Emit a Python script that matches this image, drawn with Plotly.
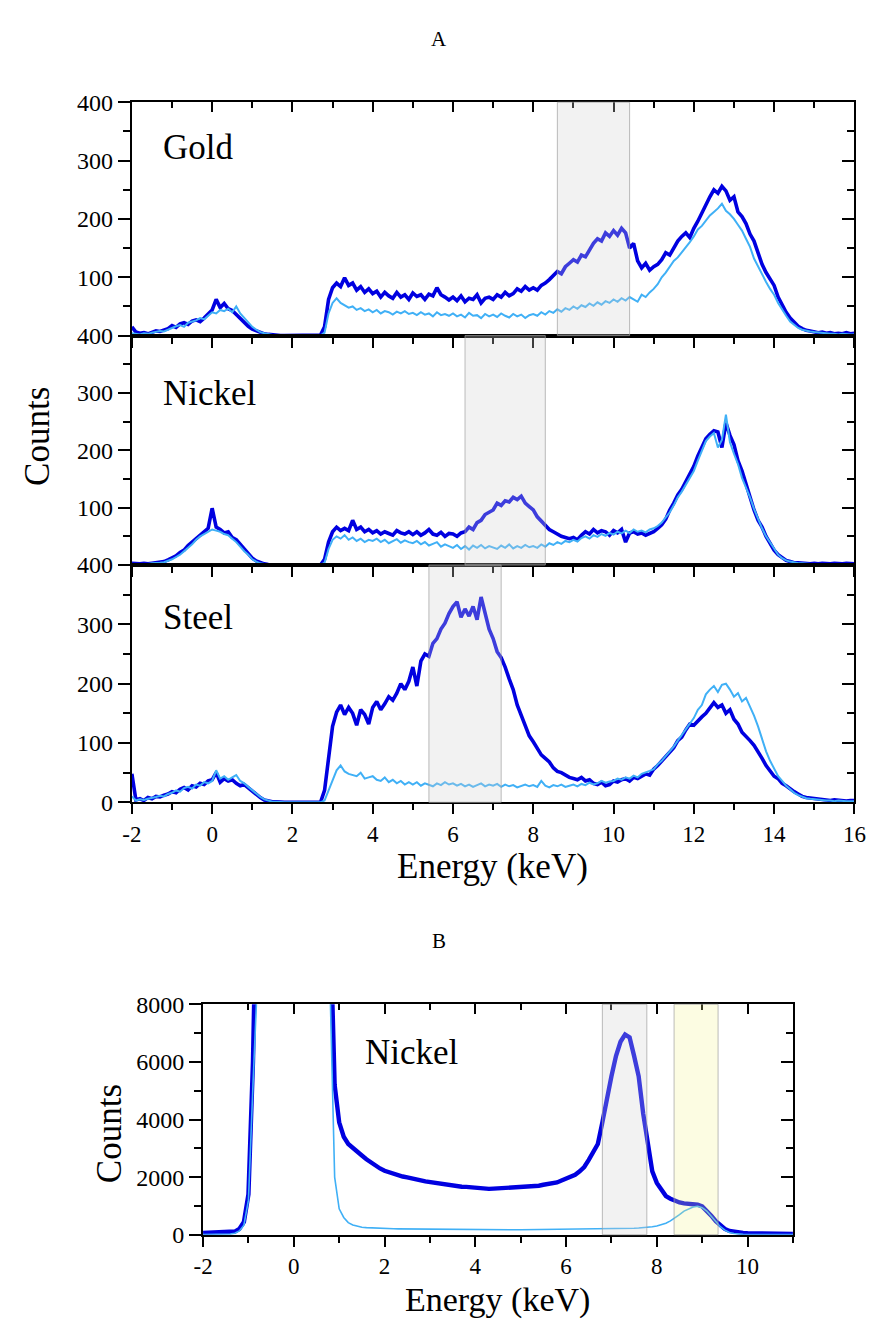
import numpy as np
import plotly.graph_objects as go

W, H = 881, 1334
FONT = "Liberation Serif, Times New Roman, serif"
DARK = "#0000e0"
LIGHT = "#40b0f6"

# ---------------------------------------------------------------- panel A
# energy channels (keV), 0.1 keV bins
energy_a = np.round(np.arange(-2.0, 16.0001, 0.1), 1)

gold_dark = [
    15, 6, 4, 5, 3, 6, 8, 7, 10, 12,
    17, 14, 20, 22, 19, 25, 27, 24, 30, 36,
    44, 62, 48, 55, 46, 43, 36, 31, 24, 16,
    11, 8, 5, 3, 2, 1, 1, 0, 0, 0,
    0, 0, 0, 0, 0, 0, 0, 1, 15, 62,
    82, 90, 84, 99, 86, 90, 78, 84, 74, 80,
    72, 76, 66, 74, 68, 64, 74, 66, 70, 62,
    73, 67, 70, 62, 71, 68, 82, 70, 66, 61,
    66, 60, 68, 58, 64, 62, 70, 56, 64, 66,
    62, 70, 66, 74, 68, 72, 80, 76, 84, 78,
    82, 78, 86, 90, 96, 104, 110, 106, 118, 124,
    130, 126, 138, 135, 146, 158, 166, 162, 176, 170,
    180, 172, 184, 176, 150, 158, 128, 116, 124, 112,
    118, 122, 130, 142, 138, 150, 162, 170, 176, 168,
    184, 196, 210, 226, 238, 250, 244, 256, 248, 232,
    238, 212, 204, 192, 174, 162, 140, 122, 108, 96,
    86, 66, 52, 40, 30, 22, 16, 12, 9, 8,
    7, 5, 6, 4, 5, 3, 4, 3, 5, 3,
    4,
]
gold_light = [
    4, 3, 2, 4, 3, 5, 6, 8, 7, 10,
    14, 16, 18, 15, 22, 24, 26, 30, 28, 34,
    40, 38, 44, 42, 46, 40, 50, 38, 30, 22,
    15, 10, 6, 4, 2, 1, 1, 0, 0, 0,
    0, 0, 0, 0, 0, 0, 0, 0, 5, 38,
    56, 64, 56, 52, 48, 50, 44, 47, 42, 45,
    40, 44, 38, 42, 40, 36, 41, 38, 42, 37,
    39, 35, 40, 36, 38, 33, 40, 35, 37, 34,
    38, 33, 36, 31, 39, 34, 35, 30, 37, 33,
    36, 32, 38, 34, 31, 37, 33, 36, 30, 35,
    37, 34, 40, 36, 42, 39, 45, 41, 47, 44,
    50, 46, 52, 49, 55, 51, 57, 53, 59, 56,
    62, 58, 64, 60, 66, 62, 58, 70, 66, 74,
    80, 88, 100, 108, 118, 128, 134, 142, 150, 160,
    170, 182, 188, 196, 206, 212, 218, 226, 214, 208,
    200, 190, 180, 166, 152, 132, 118, 104, 92, 80,
    70, 56, 44, 34, 24, 18, 13, 10, 8, 7,
    6, 5, 4, 4, 3, 3, 2, 3, 2, 2,
    2,
]
nickel_dark = [
    3, 2, 2, 3, 2, 3, 4, 5, 6, 9,
    12, 16, 22, 26, 34, 40, 46, 52, 58, 64,
    99, 66, 62, 56, 58, 48, 44, 36, 28, 20,
    12, 7, 4, 2, 1, 1, 0, 0, 0, 0,
    0, 0, 0, 0, 0, 0, 0, 0, 10, 40,
    58, 66, 60, 64, 60, 78, 62, 66, 58, 62,
    56, 60, 54, 58, 55, 52, 60, 56, 54, 58,
    53, 58, 52, 56, 62, 54, 52, 57, 50, 55,
    54, 50, 56, 58, 66, 62, 74, 78, 88, 92,
    96, 108, 104, 112, 110, 118, 114, 120, 108, 102,
    96, 84, 76, 68, 62, 58, 54, 50, 48, 46,
    48, 44, 52, 58, 54, 62, 56, 60, 58, 52,
    60, 56, 62, 40, 56, 58, 54, 56, 52, 55,
    58, 64, 70, 80, 96, 108, 122, 132, 146, 160,
    172, 190, 206, 220, 228, 234, 232, 205, 248, 226,
    210, 182, 164, 140, 120, 96, 78, 66, 50, 38,
    26, 18, 12, 8, 6, 4, 4, 3, 3, 2,
    3, 2, 3, 2, 2, 3, 2, 2, 3, 2,
    2,
]
nickel_light = [
    2, 2, 1, 2, 2, 3, 3, 4, 5, 7,
    10, 14, 18, 24, 30, 36, 44, 50, 54, 58,
    62, 60, 58, 54, 52, 46, 40, 32, 24, 18,
    10, 6, 3, 2, 1, 0, 0, 0, 0, 0,
    0, 0, 0, 0, 0, 0, 0, 0, 4, 28,
    44, 50, 46, 52, 44, 48, 42, 46, 40, 44,
    42, 46, 40, 44, 38, 42, 45, 39, 43, 40,
    38, 42, 36, 40, 34, 37, 40, 32, 36, 33,
    30, 35, 28, 33, 27, 34, 30, 35, 29, 33,
    31, 28, 34, 30, 36, 29, 33, 30, 35, 31,
    33, 30, 36, 32, 38, 35, 40, 37, 42, 40,
    44, 41, 47, 50, 46, 52, 49, 54, 51, 56,
    53, 58, 55, 60, 56, 62, 58, 60, 57, 62,
    64, 68, 74, 82, 92, 104, 118, 128, 140, 152,
    164, 182, 200, 216, 224, 230, 205, 218, 262, 214,
    194, 176, 152, 136, 118, 98, 80, 64, 50, 40,
    28, 18, 12, 8, 6, 4, 3, 3, 2, 2,
    2, 2, 1, 2, 2, 1, 2, 2, 1, 2,
    1,
]
steel_dark = [
    48, 4, 6, 3, 8, 6, 10, 9, 12, 14,
    18, 16, 22, 25, 21, 28, 26, 32, 30, 36,
    38, 50, 34, 40, 36, 38, 32, 28, 30, 24,
    18, 12, 8, 4, 2, 1, 1, 0, 0, 0,
    0, 0, 0, 0, 0, 0, 0, 0, 20, 80,
    128, 152, 164, 148, 160, 150, 130, 156, 148, 132,
    160, 170, 156, 166, 178, 172, 184, 200, 190, 204,
    228, 196, 238, 250, 246, 268, 276, 292, 302, 318,
    330, 338, 312, 326, 314, 330, 308, 346, 318, 292,
    276, 254, 244, 228, 208, 190, 164, 146, 128, 112,
    102, 92, 80, 74, 68, 58, 52, 50, 46, 42,
    40, 38, 42, 36, 38, 32, 30, 34, 28, 30,
    36, 34, 38, 40, 36, 42, 40, 44, 48, 46,
    56, 62, 70, 76, 86, 92, 104, 110, 122, 132,
    130, 138, 144, 150, 158, 168, 160, 164, 150, 156,
    140, 132, 118, 112, 104, 96, 86, 74, 62, 52,
    44, 40, 32, 28, 22, 18, 14, 10, 8, 7,
    6, 5, 4, 4, 3, 4, 3, 3, 2, 3,
    3,
]
steel_light = [
    10, 3, 5, 4, 6, 7, 9, 11, 10, 14,
    16, 20, 18, 24, 26, 23, 30, 28, 34, 32,
    36, 54, 40, 44, 38, 42, 46, 36, 32, 26,
    20, 14, 9, 5, 3, 1, 1, 0, 0, 0,
    0, 0, 0, 0, 0, 0, 0, 0, 3, 20,
    40, 54, 62, 52, 48, 46, 44, 50, 40, 42,
    44, 38, 36, 42, 34, 38, 32, 36, 30, 34,
    30, 34, 28, 32, 30, 27, 32, 29, 34, 30,
    32, 28, 31, 27, 30, 26, 29, 32, 27, 30,
    28, 31, 26, 30, 27, 29, 25, 28, 30, 27,
    29, 26, 36, 28, 25, 29, 27, 30, 26, 28,
    30, 27, 31, 29, 33, 30, 32, 36, 33, 35,
    36, 40, 38, 42, 40, 45, 42, 48, 50, 53,
    56, 64, 70, 78, 86, 94, 104, 114, 124, 134,
    142, 156, 164, 182, 190, 196, 186, 198, 200, 190,
    178, 184, 170, 176, 162, 146, 128, 108, 86, 70,
    56, 44, 36, 28, 22, 16, 12, 9, 7, 6,
    5, 4, 4, 3, 3, 2, 3, 2, 2, 2,
    2,
]

# highlighted energy windows (keV) per sample
panels_a = [
    ("Gold", gold_dark, gold_light, (8.6, 10.4)),
    ("Nickel", nickel_dark, nickel_light, (6.3, 8.3)),
    ("Steel", steel_dark, steel_light, (5.4, 7.2)),
]

# ---------------------------------------------------------------- panel B
energy_b = np.round(np.arange(-2.0, 11.0001, 0.1), 1)

nickel_b_dark = [
    60, 62, 65, 68, 70, 75, 85, 110, 200, 440,
    1400, 6000, 14000, 20000, 20000, 20000, 20000, 20000, 20000, 20000,
    20000, 20000, 20000, 20000, 20000, 20000, 20000, 20000, 11000, 5200,
    3900, 3400, 3150, 3000, 2850, 2750, 2620, 2500, 2400, 2300,
    2220, 2170, 2100, 2070, 2020, 1990, 1965, 1915, 1885, 1850,
    1825, 1785, 1765, 1735, 1725, 1695, 1685, 1665, 1662, 1645,
    1640, 1615, 1605, 1590, 1600, 1610, 1600, 1620, 1615, 1640,
    1650, 1670, 1675, 1695, 1700, 1735, 1755, 1795, 1815, 1880,
    1950, 2000, 2080, 2200, 2350, 2600, 2900, 3150, 3900, 4800,
    5500, 6200, 6700, 6950, 6850, 6200, 5500, 4200, 3100, 2200,
    1800, 1550, 1340, 1250, 1180, 1120, 1090, 1070, 1050, 1040,
    980, 840, 660, 470, 310, 200, 130, 100, 80, 60,
    50, 45, 40, 40, 38, 36, 35, 34, 33, 32,
    30,
]
nickel_b_light = [
    5, 5, 6, 6, 8, 10, 20, 50, 130, 330,
    1200, 5200, 12500, 20000, 20000, 20000, 20000, 20000, 20000, 20000,
    20000, 20000, 20000, 20000, 20000, 20000, 20000, 14000, 8500, 2000,
    900, 600, 420, 340, 290, 260, 245, 235, 225, 218,
    212, 208, 205, 202, 200, 198, 196, 194, 192, 190,
    188, 186, 184, 182, 180, 178, 177, 176, 175, 174,
    173, 172, 171, 170, 170, 170, 170, 171, 172, 172,
    173, 174, 175, 176, 177, 178, 179, 180, 181, 182,
    183, 184, 186, 188, 190, 192, 194, 196, 198, 200,
    203, 206, 210, 214, 218, 224, 232, 242, 256, 274,
    300, 340, 400, 480, 580, 700, 820, 900, 960, 990,
    940, 820, 640, 440, 280, 160, 80, 40, 20, 12,
    10, 9, 8, 8, 7, 7, 6, 6, 6, 5,
    5,
]
# Ni K-alpha window (grey) and K-beta window (yellow)
windows_b = [((6.8, 7.78), "rgba(210,210,210,0.29)"), ((8.38, 9.35), "rgba(245,245,140,0.25)")]

for arr in (gold_dark, gold_light, nickel_dark, nickel_light, steel_dark, steel_light):
    assert len(arr) == len(energy_a), len(arr)
for arr in (nickel_b_dark, nickel_b_light):
    assert len(arr) == len(energy_b), len(arr)

# ---------------------------------------------------------------- layout helpers
def fx(p):
    return p / W


def fy(p):
    return 1 - p / H


xdom_a = [fx(125), fx(866)]
ydom_a = [[fy(329), fy(91)], [fy(563), fy(329)], [fy(805), fy(563)]]
xdom_b = [fx(198), fx(803)]
ydom_b = [fy(1246), fy(1011)]

tickfont = dict(family=FONT, size=24, color="black")
base = dict(showgrid=False, zeroline=False, tickcolor="black", tickwidth=2,
            tickfont=tickfont)
framed = dict(base, showline=True, linecolor="black", linewidth=2, mirror=True)


def minor(d, ln, side):
    return dict(dtick=d, ticklen=ln, ticks=side, tickcolor="black", tickwidth=2)


fig = go.Figure()
layout = {}
shapes = []
annotations = []

xticks_a = list(range(-2, 17, 2))
for k, (name, dark, light, (w0, w1)) in enumerate(panels_a):
    sx = "" if k == 0 else str(k + 1)
    fig.add_trace(go.Scatter(x=energy_a, y=dark, mode="lines", xaxis="x" + sx, yaxis="y" + sx,
                             line=dict(color=DARK, width=3.6), showlegend=False))
    fig.add_trace(go.Scatter(x=energy_a, y=light, mode="lines", xaxis="x" + sx, yaxis="y" + sx,
                             line=dict(color=LIGHT, width=2), showlegend=False))
    layout["xaxis" + sx] = dict(framed, domain=xdom_a, anchor="y" + sx, range=[-2, 16],
                                tickmode="array", tickvals=xticks_a,
                                ticktext=[str(v) for v in xticks_a],
                                ticks="outside", ticklen=10, minor=minor(1, 6, "outside"),
                                showticklabels=(k == 2),
                                tickfont=dict(family=FONT, size=23, color="black"))
    yt = [0, 100, 200, 300, 400] if k == 2 else [100, 200, 300, 400]
    layout["yaxis" + sx] = dict(framed, domain=ydom_a[k], anchor="x" + sx, range=[0, 400],
                                tickmode="array", tickvals=yt, ticks="outside", ticklen=12,
                                minor=minor(50, 7, "outside"))
    # right-hand ticks pointing into the frame
    ry = "yaxis" + str(4 + k)
    layout[ry] = dict(base, overlaying="y" + sx, anchor="x" + sx, side="right", range=[0, 400],
                      dtick=100, ticks="inside", ticklen=12, minor=minor(50, 7, "inside"),
                      showticklabels=False)
    fig.add_trace(go.Scatter(x=[None], y=[None], xaxis="x" + sx, yaxis="y" + str(4 + k),
                             showlegend=False, hoverinfo="skip"))
    shapes.append(dict(type="rect", xref="x" + sx, yref=("y" + sx) + " domain",
                       x0=w0, x1=w1, y0=0, y1=1, layer="above",
                       fillcolor="rgba(210,210,210,0.29)",
                       line=dict(color="rgba(160,160,160,0.7)", width=1)))
    label_y = [137, 388, 617][k]
    annotations.append(dict(x=fx(155), y=fy(label_y), xref="paper", yref="paper", text=name,
                            showarrow=False, xanchor="left", yanchor="middle",
                            font=dict(family=FONT, size=35, color="black")))

# top ticks of the Gold frame pointing inward
layout["xaxis4"] = dict(base, overlaying="x", anchor="y", side="top", range=[-2, 16],
                        dtick=2, tick0=0, ticks="inside", ticklen=10,
                        minor=minor(1, 6, "inside"), showticklabels=False)
fig.add_trace(go.Scatter(x=[None], y=[None], xaxis="x4", yaxis="y", showlegend=False,
                         hoverinfo="skip"))

# panel B
fig.add_trace(go.Scatter(x=energy_b, y=nickel_b_dark, mode="lines", xaxis="x5", yaxis="y7",
                         line=dict(color=DARK, width=4.4), showlegend=False))
fig.add_trace(go.Scatter(x=energy_b, y=nickel_b_light, mode="lines", xaxis="x5", yaxis="y7",
                         line=dict(color=LIGHT, width=1.6), showlegend=False))
xticks_b = list(range(-2, 11, 2))
layout["xaxis5"] = dict(framed, domain=xdom_b, anchor="y7", range=[-2, 11], tickmode="array",
                        tickvals=xticks_b, ticktext=[str(v) for v in xticks_b],
                        ticks="outside", ticklen=10, minor=minor(1, 6, "outside"),
                        tickfont=dict(family=FONT, size=23, color="black"))
layout["yaxis7"] = dict(framed, domain=ydom_b, anchor="x5", range=[0, 8000], dtick=2000,
                        ticks="outside", ticklen=12, minor=minor(1000, 7, "outside"))
layout["xaxis6"] = dict(base, overlaying="x5", anchor="y7", side="top", range=[-2, 11],
                        dtick=2, tick0=0, ticks="inside", ticklen=10,
                        minor=minor(1, 6, "inside"), showticklabels=False)
layout["yaxis8"] = dict(base, overlaying="y7", anchor="x5", side="right", range=[0, 8000],
                        dtick=2000, ticks="inside", ticklen=12,
                        minor=minor(1000, 7, "inside"), showticklabels=False)
fig.add_trace(go.Scatter(x=[None], y=[None], xaxis="x6", yaxis="y7", showlegend=False,
                         hoverinfo="skip"))
fig.add_trace(go.Scatter(x=[None], y=[None], xaxis="x5", yaxis="y8", showlegend=False,
                         hoverinfo="skip"))
for (w0, w1), col in windows_b:
    shapes.append(dict(type="rect", xref="x5", yref="y7 domain", x0=w0, x1=w1, y0=0, y1=1,
                       layer="above", fillcolor=col,
                       line=dict(color="rgba(160,160,160,0.7)", width=1)))

# titles and axis labels
big = dict(family=FONT, size=35, color="black")
annotations += [
    dict(x=fx(440), y=fy(27), text="A", font=dict(family=FONT, size=21, color="black")),
    dict(x=fx(440), y=fy(946), text="B", font=dict(family=FONT, size=21, color="black")),
    dict(x=fx(28), y=fy(432), text="Counts", textangle=-90, font=big),
    dict(x=fx(495), y=fy(870), text="Energy (keV)", font=big),
    dict(x=fx(102), y=fy(1143), text="Counts", textangle=-90, font=big),
    dict(x=fx(500), y=fy(1313), text="Energy (keV)",
         font=dict(family=FONT, size=34, color="black")),
    dict(x=fx(362), y=fy(1060), text="Nickel", xanchor="left",
         font=dict(family=FONT, size=35, color="black")),
]
for a in annotations:
    a.setdefault("xref", "paper")
    a.setdefault("yref", "paper")
    a.setdefault("showarrow", False)
    a.setdefault("xanchor", "center")
    a.setdefault("yanchor", "middle")

fig.update_layout(
    width=W, height=H, margin=dict(l=0, r=0, t=0, b=0),
    paper_bgcolor="white", plot_bgcolor="rgba(0,0,0,0)",
    shapes=shapes, annotations=annotations, showlegend=False,
    **layout,
)

# page without body margin so the figure fills the window exactly
fig.write_html("out.html",
               post_script="document.body.style.margin='0';"
                           "document.body.style.overflow='hidden';")
